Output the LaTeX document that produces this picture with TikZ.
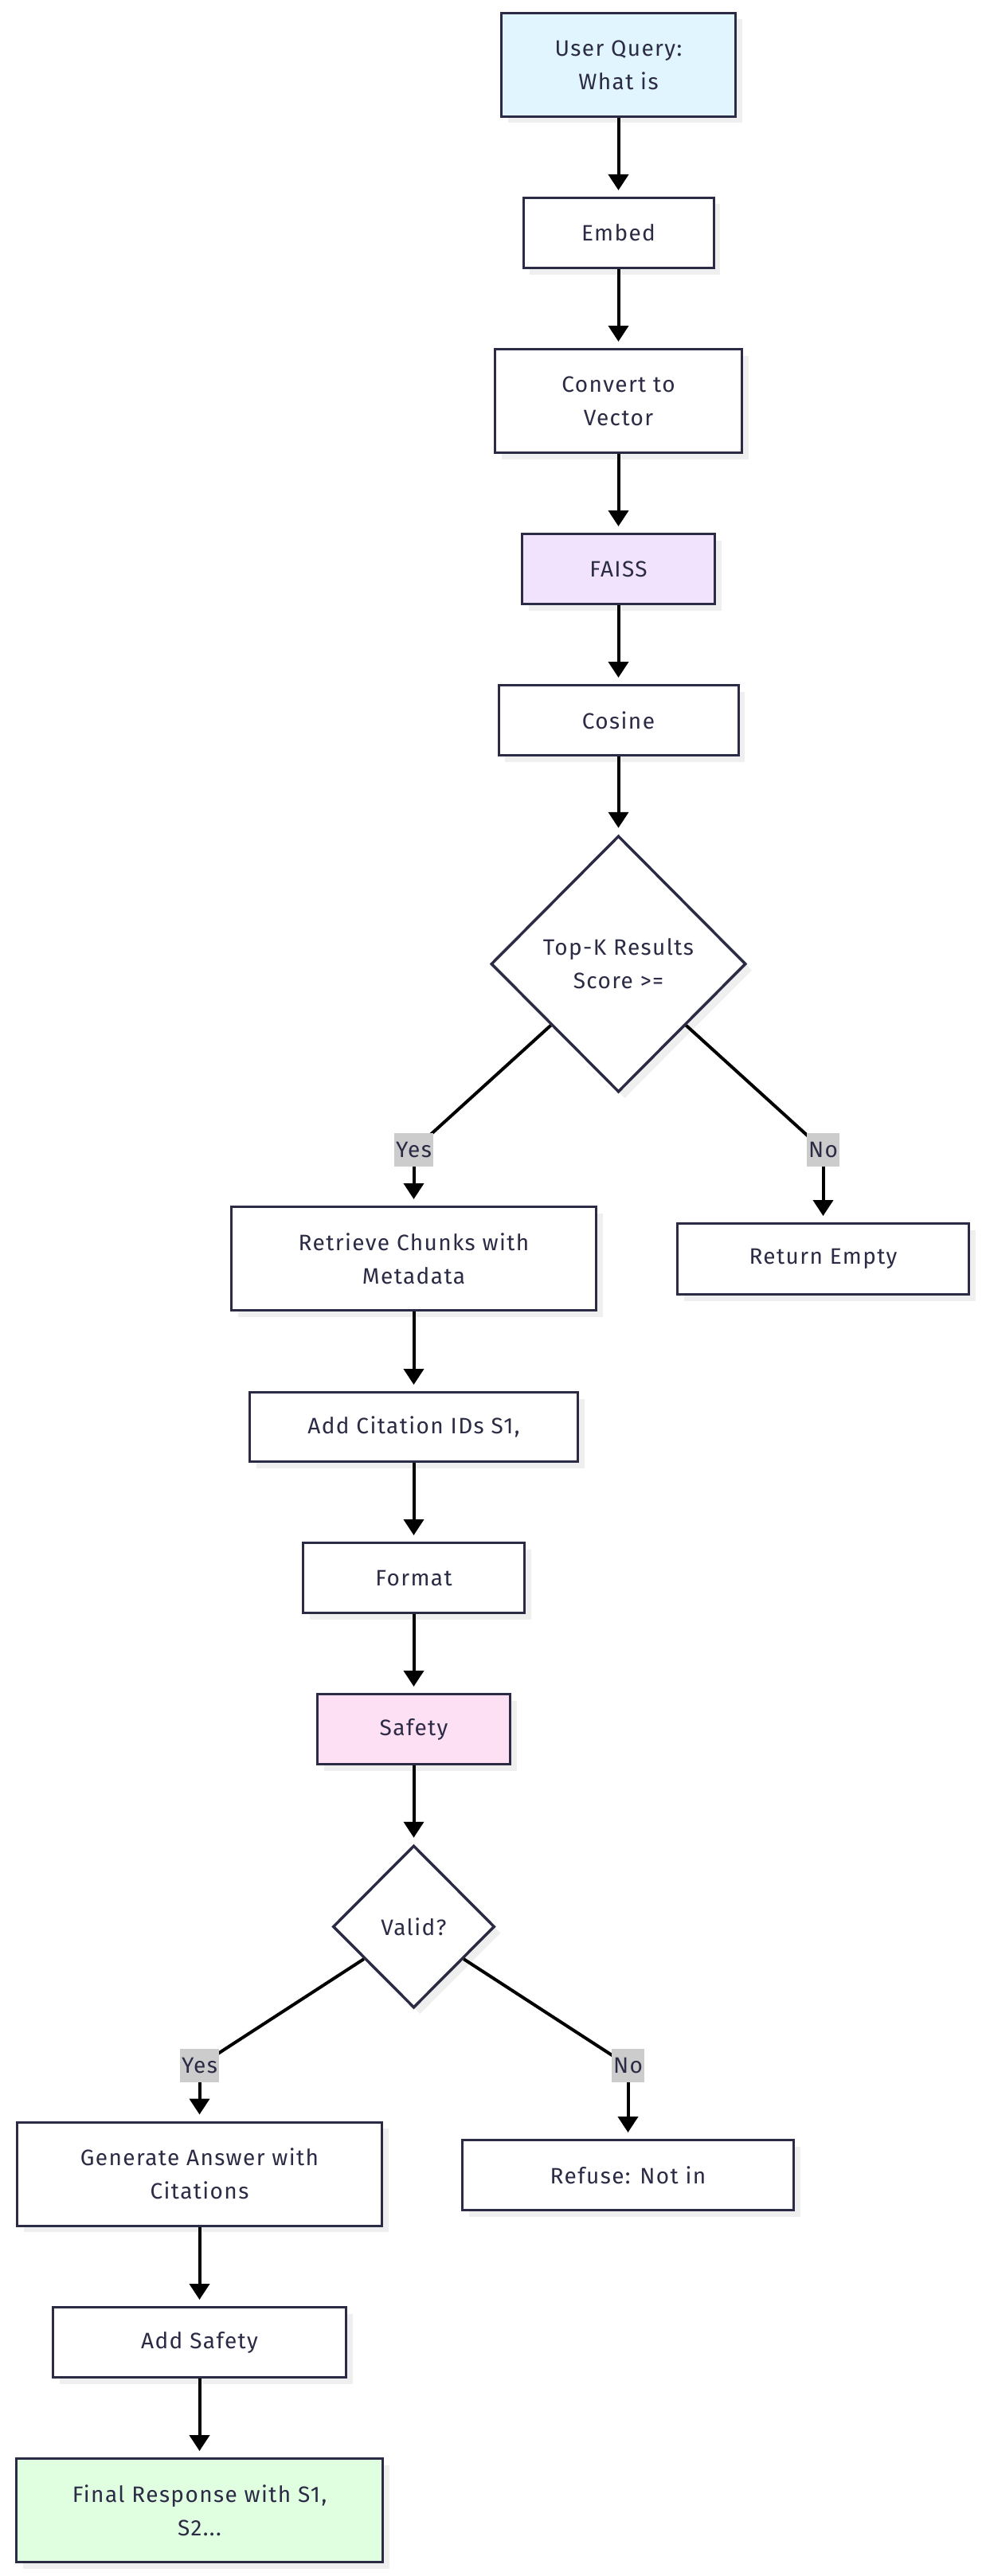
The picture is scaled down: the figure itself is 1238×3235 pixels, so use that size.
\documentclass[tikz,border=0pt]{standalone}
\usepackage{fontspec}
\setmainfont[LetterSpace=5]{Fira Sans}
\usetikzlibrary{shapes.geometric,arrows.meta,shadows}
\definecolor{ink}{HTML}{2B2B45}
\definecolor{shade}{HTML}{EFEFEF}
\definecolor{qblue}{HTML}{E1F5FE}
\definecolor{lav}{HTML}{F1E3FD}
\definecolor{pinkish}{HTML}{FEE0F4}
\definecolor{mint}{HTML}{E0FEE0}
\definecolor{labgray}{HTML}{CCCCCC}
\begin{document}
\begin{tikzpicture}[x=1pt,y=-1pt,
  txt/.style={text=ink,font=\fontsize{28}{42}\selectfont,align=center},
  box/.style={txt,draw=ink,line width=3pt,fill=white,inner sep=0pt,
    drop shadow={shadow xshift=8pt,shadow yshift=-8pt,fill=shade,opacity=1}},
  dia/.style={box,diamond,aspect=1,line width=3.5pt},
  arr/.style={draw=black,line width=4pt,-{Triangle[width=25pt,length=20pt]},shorten >=8pt},
  link/.style={draw=black,line width=4pt},
  lab/.style={txt,fill=labgray,inner xsep=2pt,inner ysep=0pt,minimum height=42pt}]
\fill[white] (0,0) rectangle (1238,3235);
\useasboundingbox (0,0) rectangle (1238,3235);
% nodes
\node[box,fill=qblue,minimum width=294pt,minimum height=130pt] (q) at (776.5,81.5) {User Query:\\What is};
\node[box,minimum width=239pt,minimum height=88pt] (embed) at (776.5,292.5) {Embed};
\node[box,minimum width=310pt,minimum height=130pt] (conv) at (776.5,503.5) {Convert to\\Vector};
\node[box,fill=lav,minimum width=242pt,minimum height=88pt] (faiss) at (776.5,714.5) {FAISS};
\node[box,minimum width=301pt,minimum height=88pt] (cos) at (776.5,904.5) {Cosine};
\node[dia,minimum width=320pt,minimum height=322pt] (d1) at (776.5,1210.5) {Top-K Results\\Score >=};
\node[box,minimum width=458pt,minimum height=130pt] (retr) at (519.5,1580.5) {Retrieve Chunks with\\Metadata};
\node[box,minimum width=366pt,minimum height=89pt] (empty) at (1033.5,1581) {Return Empty};
\node[box,minimum width=412pt,minimum height=87pt] (cite) at (519.5,1792) {Add Citation IDs S1,};
\node[box,minimum width=278pt,minimum height=88pt] (fmt) at (519.5,1981.5) {Format};
\node[box,fill=pinkish,minimum width=242pt,minimum height=88pt] (safe) at (519.5,2171.5) {Safety};
\node[dia,minimum width=203pt,minimum height=204pt] (valid) at (519.5,2419.5) {Valid?};
\node[box,minimum width=458pt,minimum height=130pt] (gen) at (250.5,2730) {Generate Answer with\\Citations};
\node[box,minimum width=416pt,minimum height=88pt] (refuse) at (788.5,2731.5) {Refuse: Not in};
\node[box,minimum width=368pt,minimum height=88pt] (addsafe) at (250.5,2941.5) {Add Safety};
\node[box,fill=mint,minimum width=460pt,minimum height=130pt] (final) at (250.5,3152.5) {Final Response with S1,\\S2...};
% label positions
\coordinate (yes1) at (519.5,1444);
\coordinate (no1) at (1033.5,1444);
\coordinate (yes2) at (250.5,2594);
\coordinate (no2) at (788.5,2594);
% edges
\draw[arr] (q) -- (embed);
\draw[arr] (embed) -- (conv);
\draw[arr] (conv) -- (faiss);
\draw[arr] (faiss) -- (cos);
\draw[arr] (cos) -- (d1);
\draw[link] (d1) -- (yes1);
\draw[arr] (yes1) -- (retr);
\draw[link] (d1) -- (no1);
\draw[arr] (no1) -- (empty);
\draw[arr] (retr) -- (cite);
\draw[arr] (cite) -- (fmt);
\draw[arr] (fmt) -- (safe);
\draw[arr] (safe) -- (valid);
\draw[link] (valid) -- (yes2);
\draw[arr] (yes2) -- (gen);
\draw[link] (valid) -- (no2);
\draw[arr] (no2) -- (refuse);
\draw[arr] (gen) -- (addsafe);
\draw[arr] (addsafe) -- (final);
% edge labels
\node[lab] (yes1l) at (yes1) {Yes};
\node[lab] (no1l) at (no1) {No};
\node[lab] (yes2l) at (yes2) {Yes};
\node[lab] (no2l) at (no2) {No};
\end{tikzpicture}
\end{document}
